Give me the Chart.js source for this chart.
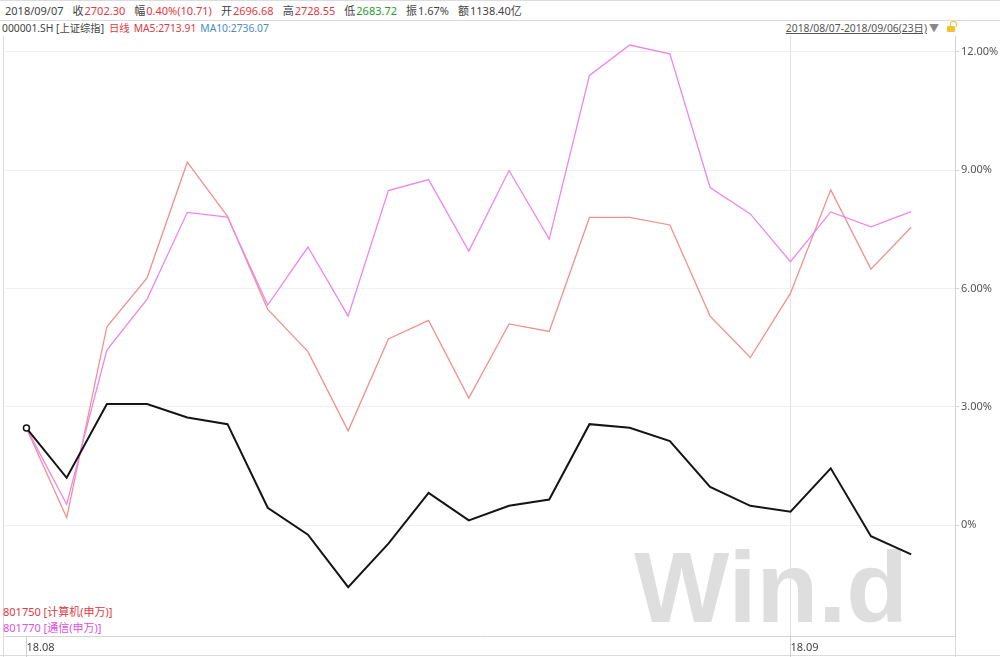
<!DOCTYPE html>
<html>
<head>
<meta charset="utf-8">
<script src="https://cdn.jsdelivr.net/npm/chart.js@4.4.1/dist/chart.umd.min.js"></script>
<style>
  body { margin: 0; background: #fff; font-family: "Noto Sans", "Noto Sans CJK SC", sans-serif; }
  #wrap { position: relative; width: 1000px; height: 657px; overflow: hidden; }
  .row { position: absolute; display: flex; white-space: nowrap; font-size: 11px; line-height: 14px; color: #444; }
  .row span { display: inline-block; }
  .g { margin-left: 9px; }
  .lab { margin-right: 1px; }
  .t { position: absolute; font-size: 11px; line-height: 14px; white-space: nowrap; color: #444; }
  .red { color: #e2393f; }
  .green { color: #2a9a2a; }
  .blue { color: #4a8cc4; }
  .mag { color: #e050e0; }
  .hline { position: absolute; left: 0; width: 1000px; height: 1px; background: #dcdcdc; }
  .vline { position: absolute; width: 1px; background: #dcdcdc; }
  #wm { position: absolute; left: 634px; top: 537px; font-family: "Liberation Sans", Arial, sans-serif;
        font-weight: bold; font-size: 101px; line-height: 101px; color: #dedede; }
  #chart { position: absolute; left: 0; top: 0; }
  #lock { position: absolute; left: 947px; top: 26px; width: 8px; height: 6px; background: #f2c230; border-radius: 1px; }
  #lock:before { content: ""; position: absolute; left: 3px; top: -5px; width: 5px; height: 5px;
        border: 1.5px solid #f2c230; border-bottom: none; border-radius: 3px 3px 0 0; }
</style>
</head>
<body>
<div id="wrap">
  <div id="wm">Win.d</div>
  <div class="hline" style="top:0"></div>
  <div class="hline" style="top:20px"></div>
  <div class="vline" style="left:3px;top:36px;height:621px"></div>
  <div class="vline" style="left:955px;top:636px;height:21px"></div>
  <div class="hline" style="top:655px"></div>

  <div class="row" style="left:5px;top:4px">
    <span>2018/09/07</span>
    <span class="g lab">收</span><span class="red">2702.30</span>
    <span class="g lab">幅</span><span class="red">0.40%(10.71)</span>
    <span class="g lab">开</span><span class="red">2696.68</span>
    <span class="g lab">高</span><span class="red">2728.55</span>
    <span class="g lab">低</span><span class="green">2683.72</span>
    <span class="g lab">振</span><span>1.67%</span>
    <span class="g lab">额</span><span>1138.40亿</span>
  </div>

  <div class="row" style="left:2px;top:21px;font-size:10.3px">
    <span>000001.SH [上证综指]</span>
    <span class="red" style="margin-left:5px">日线</span>
    <span class="red" style="margin-left:4px">MA5:2713.91</span>
    <span class="blue" style="margin-left:4px">MA10:2736.07</span>
  </div>
  <div class="t" style="right:73px;top:21px;font-size:10.3px;text-decoration:underline;color:#555">2018/08/07-2018/09/06(23日)</div>
  <div class="t" style="left:929px;top:21px;color:#888;font-size:10px">▼</div>
  <div id="lock"></div>

  <div class="t red" style="left:3px;top:605px">801750 [计算机(申万)]</div>
  <div class="t mag" style="left:3px;top:621px">801770 [通信(申万)]</div>

  <canvas id="chart" width="1000" height="657"></canvas>
</div>
<script>
// 23 trading days, 2018/08/07 - 2018/09/06 (% change)
const dates = ["08/07","08/08","08/09","08/10","08/13","08/14","08/15","08/16","08/17","08/20","08/21","08/22",
               "08/23","08/24","08/27","08/28","08/29","08/30","08/31","09/03","09/04","09/05","09/06"];
const shIndex  = [2.46, 1.20, 3.07, 3.07, 2.73, 2.56, 0.44, -0.24, -1.57, -0.47, 0.82, 0.12,
                  0.49, 0.65, 2.56, 2.47, 2.13, 0.97, 0.49, 0.34, 1.44, -0.28, -0.74];
const computer = [2.46, 0.19, 5.03, 6.27, 9.20, 7.83, 5.47, 4.40, 2.39, 4.72, 5.19, 3.22,
                  5.10, 4.91, 7.80, 7.80, 7.61, 5.30, 4.25, 5.88, 8.50, 6.49, 7.55];
const telecom  = [2.46, 0.53, 4.44, 5.73, 7.93, 7.81, 5.58, 7.05, 5.30, 8.48, 8.76, 6.95,
                  8.99, 7.25, 11.40, 12.17, 11.95, 8.56, 7.89, 6.68, 7.94, 7.56, 7.95];
const yTicks = [0, 3, 6, 9, 12];
const xTickPos = [0, 19];
const xTickText = ["18.08", "18.09"];

const toPts = arr => arr.map((v, i) => ({ x: i, y: v }));
const font = { family: '"Noto Sans", "Noto Sans CJK SC", sans-serif', size: 11 };

new Chart(document.getElementById("chart"), {
  type: "line",
  data: {
    datasets: [
      {
        label: "000001.SH",
        data: toPts(shIndex),
        borderColor: "#151515",
        borderWidth: 2,
        pointRadius: shIndex.map((v, i) => (i === 0 ? 3 : 0)),
        pointBackgroundColor: "#fff",
        pointBorderColor: "#151515",
        pointBorderWidth: 1.5,
        tension: 0
      },
      {
        label: "801770 [通信(申万)]",
        data: toPts(telecom),
        borderColor: "#ec86ec",
        borderWidth: 1.3,
        pointRadius: 0,
        tension: 0
      },
      {
        label: "801750 [计算机(申万)]",
        data: toPts(computer),
        borderColor: "#f29090",
        borderWidth: 1.3,
        pointRadius: 0,
        tension: 0
      }
    ]
  },
  options: {
    responsive: false,
    animation: false,
    layout: { padding: { left: 3, top: 36, right: 0, bottom: 0 } },
    plugins: { legend: { display: false }, tooltip: { enabled: false } },
    scales: {
      x: {
        type: "linear",
        min: -0.521,
        max: 23.09,
        afterBuildTicks: s => { s.ticks = xTickPos.map(v => ({ value: v })); },
        afterFit: s => { s.height = 21; },
        border: { color: "#d4d4d4" },
        grid: {
          color: c => (c.tick && c.tick.value === 19 ? "#e2e2e2" : "rgba(0,0,0,0)"),
          tickColor: "#cfcfcf",
          tickLength: 21
        },
        ticks: {
          align: "start",
          padding: -16,
          color: "#444",
          font: font,
          maxRotation: 0,
          autoSkip: false,
          callback: v => xTickText[xTickPos.indexOf(v)]
        }
      },
      y: {
        position: "right",
        min: -2.81,
        max: 12.40,
        afterBuildTicks: s => { s.ticks = yTicks.map(v => ({ value: v })); },
        afterFit: s => { s.width = 45; },
        border: { color: "#d4d4d4" },
        grid: { color: "#efefef", tickColor: "#d4d4d4", tickLength: 4 },
        ticks: {
          padding: 2,
          color: "#555",
          font: font,
          callback: v => (v === 0 ? "0%" : v.toFixed(2) + "%")
        }
      }
    }
  }
});
</script>
</body>
</html>
